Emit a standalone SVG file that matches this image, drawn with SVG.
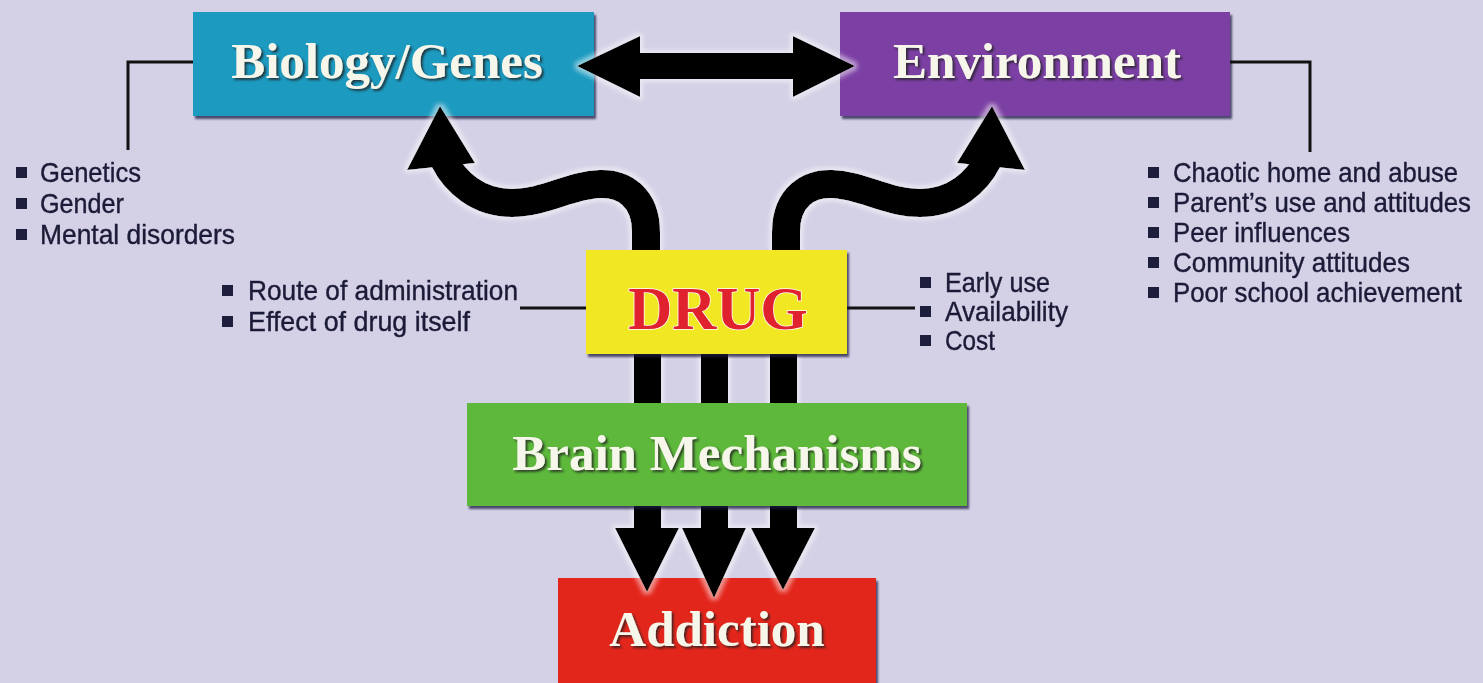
<svg xmlns="http://www.w3.org/2000/svg" width="1483" height="683" viewBox="0 0 1483 683">
<defs>
<filter id="bs" x="-5%" y="-10%" width="110%" height="125%"><feDropShadow dx="2" dy="3" stdDeviation="1.2" flood-color="#1a1a40" flood-opacity="0.75"/></filter>
<filter id="ts" x="-5%" y="-20%" width="110%" height="140%"><feDropShadow dx="2" dy="2" stdDeviation="1" flood-color="#202020" flood-opacity="0.8"/></filter>
<filter id="glow" x="-10%" y="-10%" width="120%" height="120%"><feMorphology in="SourceAlpha" operator="dilate" radius="3" result="d"/><feGaussianBlur in="d" stdDeviation="2" result="b"/><feFlood flood-color="#ffffff" flood-opacity="0.5"/><feComposite in2="b" operator="in" result="g"/><feMerge><feMergeNode in="g"/><feMergeNode in="SourceGraphic"/></feMerge></filter>
</defs>
<style>
.lbl{font-family:"Liberation Serif","Times New Roman",serif;font-weight:bold;font-size:51px;fill:#f6f6ea;text-anchor:middle;filter:url(#ts)}
.txt{font-family:"Liberation Sans Narrow","Liberation Sans","Arial Narrow",sans-serif;font-size:28px;fill:#1b1b38;stroke:#1b1b38;stroke-width:0.4}
.bul{fill:#1d1d3c}
.ln{fill:none;stroke:#111;stroke-width:3}
.wave{fill:none;stroke:#000;stroke-width:28}
.blk{fill:#000}
</style>
<rect x="0" y="0" width="1483" height="683" fill="#d4d0e6"/>

<g id="addiction">
<rect x="558" y="578" width="318" height="110" fill="#e3271e" filter="url(#bs)"/>
<text class="lbl" x="717" y="646">Addiction</text>
</g>

<g id="biology">
<rect x="193" y="12" width="401" height="104" fill="#1f9ac0" filter="url(#bs)"/>
<text class="lbl" x="387" y="78">Biology/Genes</text>
</g>

<g id="environment">
<rect x="840" y="12" width="390" height="104" fill="#7b3fa4" filter="url(#bs)"/>
<text class="lbl" x="1037" y="78">Environment</text>
</g>

<g id="connectors">
<polyline class="ln" points="193,62 128,62 128,150"/>
<polyline class="ln" points="1230,62 1310,62 1310,152"/>
<line class="ln" x1="520" y1="308" x2="587" y2="308"/>
<line class="ln" x1="846" y1="308" x2="915" y2="308"/>
<g filter="url(#glow)">
<polygon class="blk" points="577,66 640,36 640,53 795,53 795,79 640,79 640,97"/>
<polygon class="blk" points="855,66 793,36 793,97"/>
<path class="wave" d="M646,262 L646,232 C646,196 622,183 600,184 C570,185 545,203 512,203 C478,203 455,182 444,160"/>
<polygon class="blk" points="440,106 407,170 475,163"/>
<g transform="translate(1432,0) scale(-1,1)">
<path class="wave" d="M646,262 L646,232 C646,196 622,183 600,184 C570,185 545,203 512,203 C478,203 455,182 444,160"/>
<polygon class="blk" points="440,106 407,170 475,163"/>
</g>
<rect class="blk" x="634" y="350" width="27" height="182"/>
<rect class="blk" x="701" y="350" width="27" height="182"/>
<rect class="blk" x="770" y="350" width="27" height="182"/>
<polygon class="blk" points="615,528 679,528 647,592"/>
<polygon class="blk" points="682,528 746,528 714,598"/>
<polygon class="blk" points="751,528 815,528 783,590"/>
</g>
</g>

<g id="drug">
<rect x="586" y="250" width="261" height="104" fill="#f1e723" filter="url(#bs)"/>
<text x="718" y="329" font-family="Liberation Serif, Times New Roman, serif" font-weight="bold" font-size="61" fill="#e0222e" stroke="#ffffff" stroke-width="1.5" paint-order="stroke" text-anchor="middle">DRUG</text>
</g>

<g id="brain">
<rect x="467" y="403" width="500" height="103" fill="#5db83b" filter="url(#bs)"/>
<text class="lbl" x="717" y="470">Brain Mechanisms</text>
</g>

<g id="bio-factors">
<rect class="bul" x="16" y="167" width="11" height="11"/>
<text class="txt" x="40" y="182" textLength="101" lengthAdjust="spacingAndGlyphs">Genetics</text>
<rect class="bul" x="16" y="198" width="11" height="11"/>
<text class="txt" x="40" y="213" textLength="84" lengthAdjust="spacingAndGlyphs">Gender</text>
<rect class="bul" x="16" y="229" width="11" height="11"/>
<text class="txt" x="40" y="244" textLength="195" lengthAdjust="spacingAndGlyphs">Mental disorders</text>
</g>

<g id="env-factors">
<rect class="bul" x="1148" y="167" width="11" height="11"/>
<text class="txt" x="1173" y="182" textLength="285" lengthAdjust="spacingAndGlyphs">Chaotic home and abuse</text>
<rect class="bul" x="1148" y="197" width="11" height="11"/>
<text class="txt" x="1173" y="212" textLength="298" lengthAdjust="spacingAndGlyphs">Parent’s use and attitudes</text>
<rect class="bul" x="1148" y="227" width="11" height="11"/>
<text class="txt" x="1173" y="242" textLength="177" lengthAdjust="spacingAndGlyphs">Peer influences</text>
<rect class="bul" x="1148" y="257" width="11" height="11"/>
<text class="txt" x="1173" y="272" textLength="237" lengthAdjust="spacingAndGlyphs">Community attitudes</text>
<rect class="bul" x="1148" y="287" width="11" height="11"/>
<text class="txt" x="1173" y="302" textLength="289" lengthAdjust="spacingAndGlyphs">Poor school achievement</text>
</g>

<g id="drug-factors-left">
<rect class="bul" x="222" y="285" width="11" height="11"/>
<text class="txt" x="248" y="300" textLength="270" lengthAdjust="spacingAndGlyphs">Route of administration</text>
<rect class="bul" x="222" y="316" width="11" height="11"/>
<text class="txt" x="248" y="331" textLength="222" lengthAdjust="spacingAndGlyphs">Effect of drug itself</text>
</g>

<g id="drug-factors-right">
<rect class="bul" x="920" y="277" width="11" height="11"/>
<text class="txt" x="945" y="292" textLength="105" lengthAdjust="spacingAndGlyphs">Early use</text>
<rect class="bul" x="920" y="306" width="11" height="11"/>
<text class="txt" x="945" y="321" textLength="123" lengthAdjust="spacingAndGlyphs">Availability</text>
<rect class="bul" x="920" y="335" width="11" height="11"/>
<text class="txt" x="945" y="350" textLength="50" lengthAdjust="spacingAndGlyphs">Cost</text>
</g>
</svg>
